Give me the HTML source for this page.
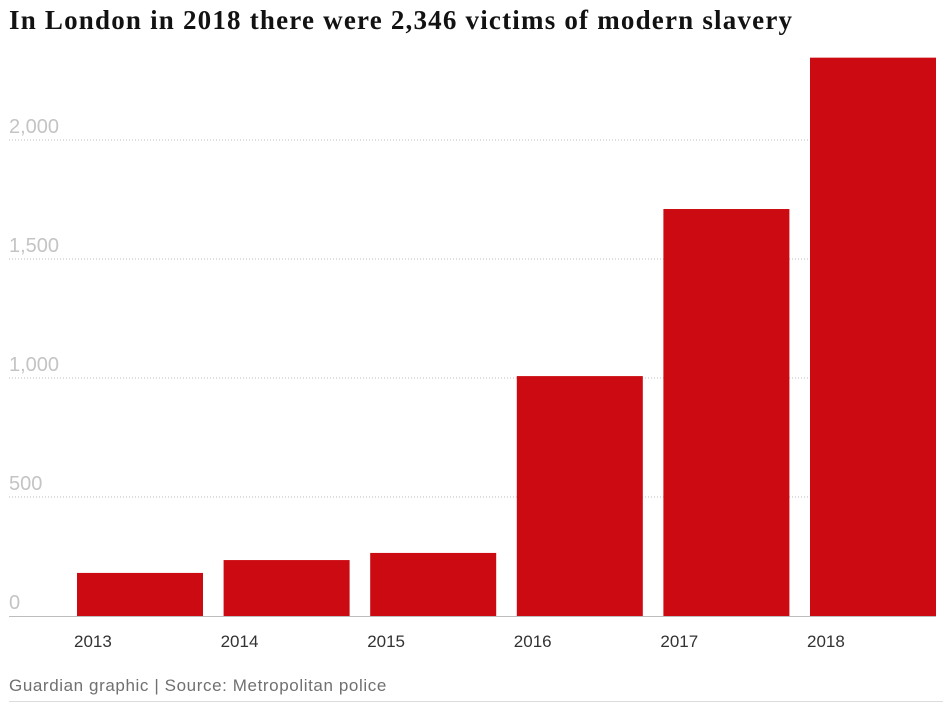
<!DOCTYPE html>
<html><head><meta charset="utf-8"><style>
body{margin:0;background:#fff;width:943px;height:703px;overflow:hidden;position:relative;font-family:"Liberation Sans",sans-serif}
#title{position:absolute;left:9px;top:5px;font-family:"Liberation Serif",serif;font-weight:bold;font-size:27px;color:#121212;letter-spacing:1.2px;white-space:nowrap}
#foot{position:absolute;left:9px;top:676px;font-size:17px;color:#707070;letter-spacing:0.6px;white-space:nowrap}
#footline{position:absolute;left:9px;right:0;top:701px;border-top:1px solid #dcdcdc}
svg{position:absolute;left:0;top:0}
</style></head><body>
<div id="title">In London in 2018 there were 2,346 victims of modern slavery</div>
<svg id="chart" width="943" height="703"></svg>
<div id="foot">Guardian graphic | Source: Metropolitan police</div>
<div id="footline"></div>
<script>
const categories=["2013","2014","2015","2016","2017","2018"];
const values=[181,235,265,1008,1710,2346];
const ticks=[0,500,1000,1500,2000];
const tickLabels=["0","500","1,000","1,500","2,000"];
const NS="http://www.w3.org/2000/svg";
const svg=document.getElementById("chart");
const y0=616,k=119/500,x0=77,step=146.6,bw=126;
const y=v=>y0-v*k;
const x=i=>x0+i*step;
function mk(t,a){const e=document.createElementNS(NS,t);for(const p in a)e.setAttribute(p,a[p]);svg.appendChild(e);return e;}
ticks.forEach((t,i)=>{
 if(t>0){const l=mk("line",{x1:9,x2:936,y1:y(t),y2:y(t),stroke:"#bdbdbd","stroke-dasharray":"1,2"});
 
 }
 const tx=mk("text",{x:9,y:y(t)-7,"font-size":20,fill:"#c4c4c4","font-family":"Liberation Sans, sans-serif"});
 tx.textContent=tickLabels[i];
 
 
});
values.forEach((v,i)=>{
 const r=mk("rect",{x:x(i),y:y(v),width:bw,height:y0-y(v),fill:"#cc0a11"});
 
 
 const t=mk("text",{x:x(i)-3,y:647,"font-size":17,fill:"#333","font-family":"Liberation Sans, sans-serif"});
 t.textContent=categories[i];
 
 
});
const b=mk("line",{x1:9,x2:936,y1:y0+0.5,y2:y0+0.5,stroke:"#bdbdbd"});


</script>
</body></html>
